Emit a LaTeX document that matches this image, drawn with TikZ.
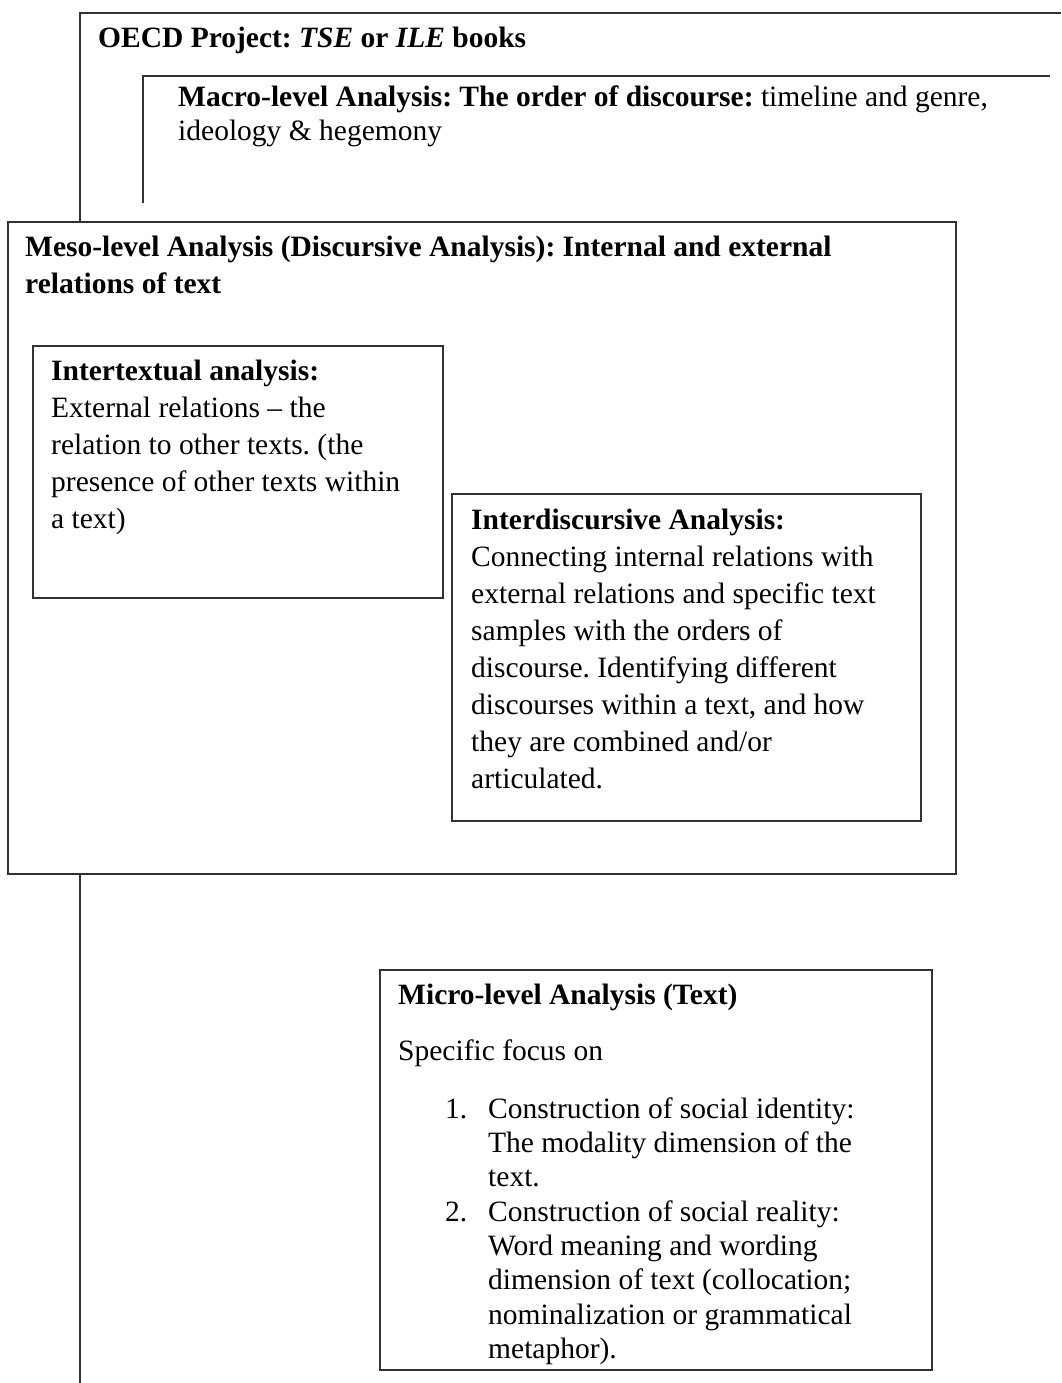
\documentclass[tikz,border=0pt]{standalone}
\usepackage{fontspec}
\setmainfont{Liberation Serif}
\frenchspacing
\begin{document}
\begin{tikzpicture}[x=1pt,y=-1pt,
  rule/.style={line width=2pt, draw=black!80},
  box/.style={rule, fill=white, rectangle, inner sep=0pt, outer sep=0pt, anchor=north west},
  % multi-line texts are placed by the baseline of their last line
  txt/.style={inner sep=0pt, anchor=base west, align=left, font=\fontsize{29.5}{37}\selectfont},
  txtmacro/.style={txt, font=\fontsize{29.5}{33.5}\selectfont},
  txtmicro/.style={txt, font=\fontsize{29.5}{34.4}\selectfont}]
\useasboundingbox (0,0) rectangle (1061,1383);

% outer frame of the OECD project, open to the right and below
\coordinate (oecdEnd) at (1061,13);
\coordinate (oecdCorner) at (80,13);
\coordinate (oecdFoot) at (80,1383);
\draw[rule] (oecdEnd) -- (oecdCorner) -- (oecdFoot);
\node[txt] (oecd) at (98,48) {\textbf{OECD Project: \textit{TSE} or \textit{ILE} books}};

% macro-level frame
\coordinate (macroEnd) at (1050,76);
\coordinate (macroCorner) at (143,76);
\coordinate (macroFoot) at (143,203);
\draw[rule] (macroEnd) -- (macroCorner) -- (macroFoot);
\node[txtmacro] (macro) at (178,140.5)
  {\textbf{Macro-level Analysis: The order of discourse:} timeline and genre,\\
   ideology \& hegemony};

% meso-level box
\node[box, minimum width=948pt, minimum height=652pt] (meso) at (8,222) {};
\node[txt, font=\fontsize{29.5}{37}\selectfont\bfseries] (mesotitle) at (25,293)
  {Meso-level Analysis (Discursive Analysis): Internal and external\\
   relations of text};

% intertextual analysis
\node[box, minimum width=410pt, minimum height=252pt] (inter) at (33,346) {};
\node[txt] (intertext) at (51,528)
  {\textbf{Intertextual analysis:}\\
   External relations -- the\\
   relation to other texts. (the\\
   presence of other texts within\\
   a text)};

% interdiscursive analysis
\node[box, minimum width=469pt, minimum height=327pt] (interd) at (452,494) {};
\node[txt] (interdtext) at (471,788)
  {\textbf{Interdiscursive Analysis:}\\
   Connecting internal relations with\\
   external relations and specific text\\
   samples with the orders of\\
   discourse. Identifying different\\
   discourses within a text, and how\\
   they are combined and/or\\
   articulated.};

% micro-level box
\node[box, minimum width=552pt, minimum height=400pt] (micro) at (380,970) {};
\node[txt] (microtitle) at (398,1004) {\textbf{Micro-level Analysis (Text)}};
\node[txt] (focus) at (398,1060) {Specific focus on};
\node[txt] (num1) at (445,1118) {1.};
\node[txtmicro] (item1) at (488,1186.8)
  {Construction of social identity:\\
   The modality dimension of the\\
   text.};
\node[txt] (num2) at (445,1221) {2.};
\node[txtmicro] (item2) at (488,1358.6)
  {Construction of social reality:\\
   Word meaning and wording\\
   dimension of text (collocation;\\
   nominalization or grammatical\\
   metaphor).};
\end{tikzpicture}
\end{document}
